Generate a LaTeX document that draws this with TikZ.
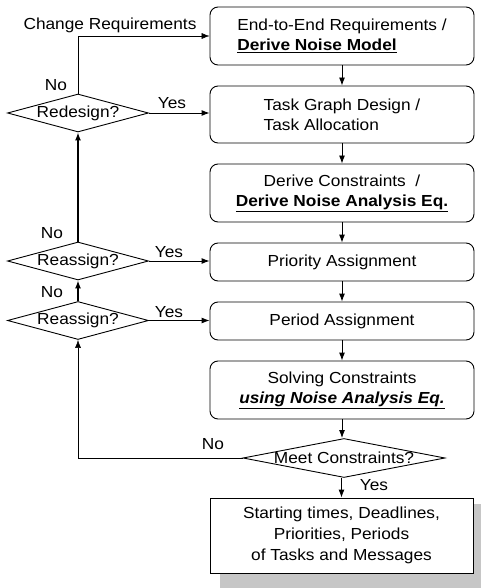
\documentclass[tikz,border=0pt]{standalone}
\usepackage{fontspec}
\setmainfont[FakeStretch=1.08]{Liberation Sans}
\usetikzlibrary{shapes.geometric,arrows.meta}

\newcommand{\bul}[1]{\underline{\textbf{#1}}}
\newcommand{\biul}[1]{\underline{\textbf{\textit{#1}}}}

\begin{document}
\begin{tikzpicture}[x=1pt,y=-1pt,font=\fontsize{16}{20}\selectfont,
  >={Latex[length=8pt,width=6pt]},
  box/.style={draw,rounded corners=8pt,minimum width=264pt,inner sep=0pt,line width=0.9pt},
  dec/.style={diamond,draw,inner sep=0pt,line width=0.9pt,minimum width=141pt,minimum height=38pt},
  flow/.style={->,line width=0.9pt},
  backflow/.style={->,line width=1.4pt},
  thinflow/.style={->,line width=0.5pt}]
\useasboundingbox (0,0) rectangle (481,588);
% shadow under the result box
\fill[gray!45] (220,504) rectangle (481,588);

% process steps
\node [box,minimum height=58pt,align=left] (req) at (342,36)
  {End-to-End Requirements /\\ \bul{Derive Noise Model}};
\node [box,minimum height=57pt,align=left] (tgd) at (342,114.5)
  {Task Graph Design /\\ Task Allocation};
\node [box,minimum height=58pt,align=center] (dc) at (342,193)
  {Derive Constraints \ /\\ \bul{Derive Noise Analysis Eq.}};
\node [box,minimum height=38pt] (pa) at (342,262) {Priority Assignment};
\node [box,minimum height=38pt] (per) at (342,321) {Period Assignment};
\node [box,minimum height=58pt,align=center] (sc) at (342,390)
  {Solving Constraints\\ \biul{using Noise Analysis Eq.}};
\node [draw,fill=white,line width=0.9pt,minimum width=263pt,minimum height=75pt,
  inner sep=0pt,align=center,font=\fontsize{16}{21}\selectfont] (res) at (341.5,535.5)
  {Starting times, Deadlines,\\ Priorities, Periods\\ of Tasks and Messages};

% decisions
\node [dec,label=center:Redesign?] (rd) at (78,113) {};
\node [dec,label=center:Reassign?] (ra1) at (78,261) {};
\node [dec,label=center:Reassign?] (ra2) at (78,320.5) {};
\node [dec,minimum width=202pt,minimum height=39pt,label=center:Meet Constraints?] (mc) at (344,458) {};

% main flow
\draw[flow] (req) -- (tgd);
\draw[flow] (tgd) -- (dc);
\draw[flow] (dc) -- (pa);
\draw[flow] (pa) -- (per);
\draw[flow] (per) -- (sc);
\draw[flow] (sc.south) -- (sc.south |- mc.north);
\draw[flow] (mc.south -| res.north) -- (res.north);

% yes branches
\draw[flow] (rd.east) -- (rd.east -| tgd.west);
\draw[flow] (ra1.east) -- (ra1.east -| pa.west);
\draw[flow] (ra2.east) -- (ra2.east -| per.west);

% no branches
\draw[thinflow] (rd.north) |- (req.west);
\draw[backflow] (ra1) -- (rd);
\draw[backflow] (ra2) -- (ra1);
\draw[thinflow] (mc.west) -| (ra2.south);

% labels
\node (chg) at (110,25) {Change Requirements};
\node (no1) at (56,85) {No};
\node (yes1) at (172,103) {Yes};
\node (no2) at (52,233) {No};
\node (yes2) at (169,252) {Yes};
\node (no3) at (52,292) {No};
\node (yes3) at (169,312) {Yes};
\node (no4) at (213,444) {No};
\node (yes4) at (374,485) {Yes};
\end{tikzpicture}
\end{document}
